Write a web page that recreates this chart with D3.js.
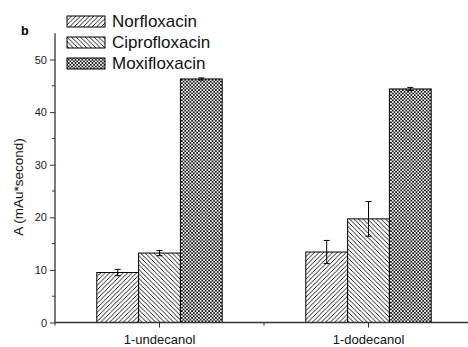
<!DOCTYPE html>
<html>
<head>
    <meta charset="utf-8">
    <title>Peak area by extraction solvent</title>
    <style>
        body { margin: 0; background: #fff; }
        text { font-family: Arial, "Liberation Sans", sans-serif; }
    </style>
    <script src="https://cdn.jsdelivr.net/npm/d3@7"></script>
</head>
<body>
<script>
    // data
    var solvents = ["1-undecanol", "1-dodecanol"];
    var drugs = ["Norfloxacin", "Ciprofloxacin", "Moxifloxacin"];
    var norfloxacin = [9.5, 13.4];
    var ciprofloxacin = [13.2, 19.7];
    var moxifloxacin = [46.3, 44.4];
    var norfloxacinErr = [0.6, 2.2];
    var ciprofloxacinErr = [0.5, 3.3];
    var moxifloxacinErr = [0.2, 0.3];
    var yTicks = [0, 10, 20, 30, 40, 50];
    var yMinorTicks = [5, 15, 25, 35, 45];

    var series = [
        { name: drugs[0], values: norfloxacin, errs: norfloxacinErr, fill: "url(#hatchFwd)" },
        { name: drugs[1], values: ciprofloxacin, errs: ciprofloxacinErr, fill: "url(#hatchBack)" },
        { name: drugs[2], values: moxifloxacin, errs: moxifloxacinErr, fill: "url(#cross)" }
    ];

    var width = 468, height = 347;

    var svg = d3.select("body").append("svg")
        .attr("width", width)
        .attr("height", height);

    // hatch patterns
    var defs = svg.append("defs");
    var p1 = defs.append("pattern").attr("id", "hatchFwd")
        .attr("patternUnits", "userSpaceOnUse").attr("width", 4.5).attr("height", 4.5);
    p1.append("rect").attr("width", 4.5).attr("height", 4.5).attr("fill", "#fff");
    p1.append("path").attr("d", "M-1,1 L1,-1 M0,4.5 L4.5,0 M3.5,5.5 L5.5,3.5")
        .attr("stroke", "#000").attr("stroke-width", 0.9);

    var p2 = defs.append("pattern").attr("id", "hatchBack")
        .attr("patternUnits", "userSpaceOnUse").attr("width", 4.5).attr("height", 4.5);
    p2.append("rect").attr("width", 4.5).attr("height", 4.5).attr("fill", "#fff");
    p2.append("path").attr("d", "M-1,3.5 L1,5.5 M0,0 L4.5,4.5 M3.5,-1 L5.5,1")
        .attr("stroke", "#000").attr("stroke-width", 0.9);

    var p3 = defs.append("pattern").attr("id", "cross")
        .attr("patternUnits", "userSpaceOnUse").attr("width", 3.4).attr("height", 3.4);
    p3.append("rect").attr("width", 3.4).attr("height", 3.4).attr("fill", "#fff");
    p3.append("path").attr("d", "M0,0 L3.4,3.4 M0,3.4 L3.4,0 M-1,1 L1,-1 M2.4,4.4 L4.4,2.4 M-1,2.4 L1,4.4 M2.4,-1 L4.4,1")
        .attr("stroke", "#000").attr("stroke-width", 0.8);

    // scales
    var x = d3.scaleBand()
        .domain(solvents)
        .range([55, 473])
        .padding(0);
    var xs = d3.scaleBand()
        .domain(drugs)
        .range([x.bandwidth() * 0.2, x.bandwidth() * 0.8])
        .padding(0);
    var y = d3.scaleLinear()
        .domain([0, 55])
        .range([322.5, 33.2]);

    // bars
    var groups = svg.selectAll(".series")
        .data(series)
        .enter().append("g")
        .attr("class", "series");

    groups.selectAll("rect")
        .data(function(s) {
            return s.values.map(function(v, i) {
                return { solvent: solvents[i], drug: s.name, value: v, err: s.errs[i], fill: s.fill };
            });
        })
        .enter().append("rect")
        .attr("x", function(d) { return x(d.solvent) + xs(d.drug); })
        .attr("width", xs.bandwidth())
        .attr("y", function(d) { return y(d.value); })
        .attr("height", function(d) { return y(0) - y(d.value); })
        .attr("fill", function(d) { return d.fill; })
        .attr("stroke", "#000")
        .attr("stroke-width", 1);

    // error bars
    var errs = groups.selectAll(".err")
        .data(function(s) {
            return s.values.map(function(v, i) {
                return { solvent: solvents[i], drug: s.name, value: v, err: s.errs[i] };
            });
        })
        .enter().append("g")
        .attr("class", "err")
        .attr("stroke", "#000")
        .attr("stroke-width", 1);
    function cx(d) { return x(d.solvent) + xs(d.drug) + xs.bandwidth() / 2; }
    errs.append("line")
        .attr("x1", cx).attr("x2", cx)
        .attr("y1", function(d) { return y(d.value + d.err); })
        .attr("y2", function(d) { return y(d.value - d.err); });
    errs.append("line")
        .attr("x1", function(d) { return cx(d) - 3; })
        .attr("x2", function(d) { return cx(d) + 3; })
        .attr("y1", function(d) { return y(d.value + d.err); })
        .attr("y2", function(d) { return y(d.value + d.err); });
    errs.append("line")
        .attr("x1", function(d) { return cx(d) - 3; })
        .attr("x2", function(d) { return cx(d) + 3; })
        .attr("y1", function(d) { return y(d.value - d.err); })
        .attr("y2", function(d) { return y(d.value - d.err); });

    // y axis
    var yAxis = svg.append("g")
        .attr("transform", "translate(55,0)")
        .call(d3.axisLeft(y).tickValues(yTicks).tickSize(5).tickPadding(3).tickFormat(d3.format("d")));
    yAxis.select(".domain").attr("d", "M0," + y(0) + "V" + y(55)).attr("stroke", "#333").attr("stroke-width", 1.3);
    yAxis.selectAll(".tick line").attr("stroke", "#333");
    yAxis.selectAll("text").attr("font-size", 11).attr("fill", "#222").style("font-family", "Arial, 'Liberation Sans', sans-serif");
    svg.append("g").selectAll("line")
        .data(yMinorTicks)
        .enter().append("line")
        .attr("x1", 52).attr("x2", 55)
        .attr("y1", function(d) { return y(d); })
        .attr("y2", function(d) { return y(d); })
        .attr("stroke", "#333");

    // x axis
    var xAxis = svg.append("g")
        .attr("transform", "translate(0," + y(0) + ")")
        .call(d3.axisBottom(x).tickSize(5).tickPadding(7));
    xAxis.select(".domain").attr("d", "M55,0H473").attr("stroke", "#333").attr("stroke-width", 1.6);
    xAxis.selectAll(".tick line").attr("stroke", "#333");
    xAxis.selectAll("text").attr("font-size", 13).attr("fill", "#111").style("font-family", "Arial, 'Liberation Sans', sans-serif");
    // minor ticks at band edges
    xAxis.append("g").selectAll("line")
        .data(solvents.concat(["end"]))
        .enter().append("line")
        .attr("x1", function(d) { return d === "end" ? x.range()[1] : x(d); })
        .attr("x2", function(d) { return d === "end" ? x.range()[1] : x(d); })
        .attr("y1", 0).attr("y2", 3)
        .attr("stroke", "#333");

    // y axis title
    svg.append("text")
        .attr("transform", "translate(23,187) rotate(-90)")
        .attr("text-anchor", "middle")
        .attr("font-size", 13.5)
        .attr("fill", "#111")
        .text("A (mAu*second)");

    // panel letter
    svg.append("text")
        .attr("x", 21).attr("y", 35)
        .attr("font-size", 12.5).attr("font-weight", "bold")
        .text("b");

    // legend
    var legend = svg.append("g").selectAll("g")
        .data(series)
        .enter().append("g")
        .attr("transform", function(d, i) { return "translate(67," + (16 + i * 21) + ")"; });
    legend.append("rect")
        .attr("width", 38).attr("height", 11)
        .attr("fill", function(d) { return d.fill; })
        .attr("stroke", "#000");
    legend.append("text")
        .attr("x", 45).attr("y", 11)
        .attr("font-size", 17)
        .attr("fill", "#111")
        .text(function(d) { return d.name; });
</script>
</body>
</html>
